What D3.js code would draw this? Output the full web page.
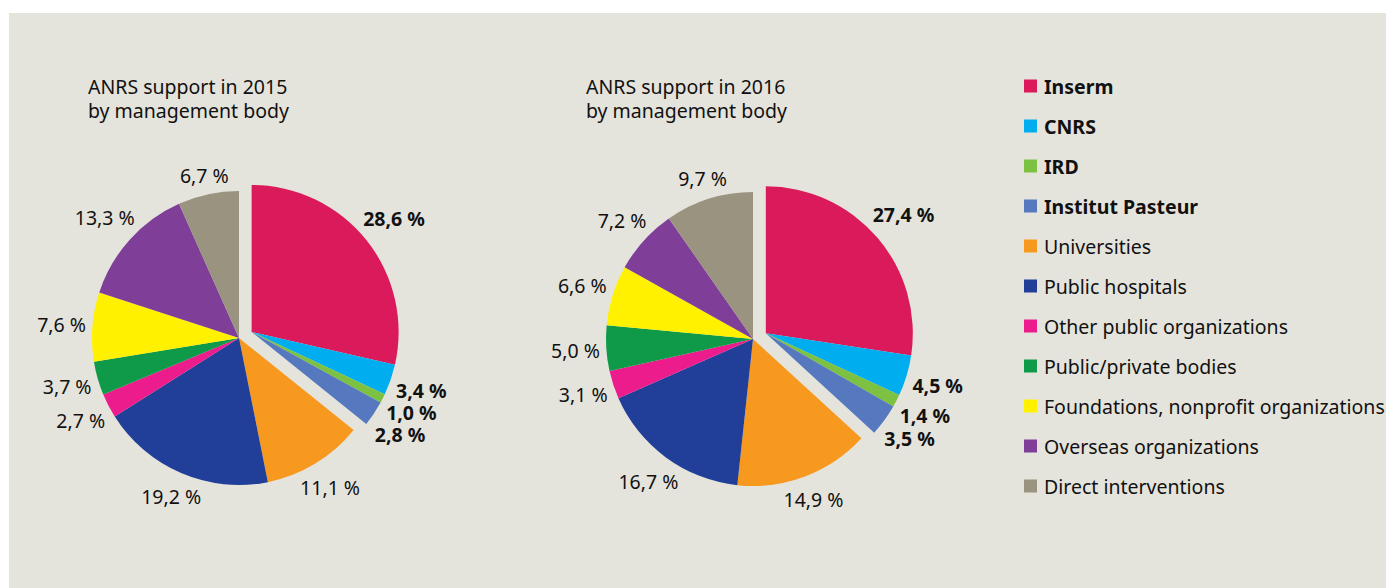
<!DOCTYPE html>
<html>
<head>
<meta charset="utf-8">
<script src="https://cdn.jsdelivr.net/npm/d3@7"></script>
<style>
  body { margin: 0; background: #fff; }
  svg { display: block; font-family: "Noto Sans", sans-serif; }
</style>
</head>
<body>
<svg id="viz" width="1386" height="588"></svg>
<script>
// categories, colours and the two years of shares (percent)
const categories = [
    "Inserm", "CNRS", "IRD", "Institut Pasteur", "Universities", "Public hospitals",
    "Other public organizations", "Public/private bodies",
    "Foundations, nonprofit organizations", "Overseas organizations", "Direct interventions"
];
const colors = [
    "#da1a5b", "#00aeef", "#7dc142", "#5578bf", "#f7991f", "#213f99",
    "#ec1c8c", "#0e9a48", "#fff100", "#7f3f98", "#9a9380"
];
const values2015 = [28.6, 3.4, 1.0, 2.8, 11.1, 19.2, 2.7, 3.7, 7.6, 13.3, 6.7];
const values2016 = [27.4, 4.5, 1.4, 3.5, 14.9, 16.7, 3.1, 5.0, 6.6, 7.2, 9.7];
const highlighted = ["Inserm", "CNRS", "IRD", "Institut Pasteur"];
const titles2015 = ["ANRS support in 2015", "by management body"];
const titles2016 = ["ANRS support in 2016", "by management body"];

const svg = d3.select("#viz");
const radius = 147;
const explode = 14;
const fontSize = 19.5;

svg.append("rect")
    .attr("x", 9).attr("y", 13)
    .attr("width", 1386 - 9).attr("height", 588 - 13)
    .attr("fill", "#e5e4dc");

const color = d3.scaleOrdinal().domain(categories).range(colors);
const fmt = (v) => d3.format(".1f")(v).replace(".", ",") + " %";

function drawPie(values, titles, cx, cy, titleX) {
    const g = svg.append("g");

    g.selectAll("text.title")
        .data(titles)
        .enter()
        .append("text")
        .attr("class", "title")
        .attr("x", titleX)
        .attr("y", (d, i) => 94 + i * 24)
        .attr("font-size", fontSize)
        .attr("fill", "#111")
        .text((d) => d);

    const data = categories.map((name, i) => ({name, value: values[i]}));
    const arcs = d3.pie().sort(null).value((d) => d.value)(data);

    // the highlighted group is pulled out along its middle angle
    const hl = arcs.filter((a) => highlighted.includes(a.data.name));
    const midGroup = (hl[0].startAngle + hl[hl.length - 1].endAngle) / 2;
    const off = [explode * Math.sin(midGroup), -explode * Math.cos(midGroup)];
    const centerOf = (a) => highlighted.includes(a.data.name)
        ? [cx + off[0], cy + off[1]] : [cx, cy];

    const arc = d3.arc().innerRadius(0).outerRadius(radius);

    g.selectAll("path")
        .data(arcs)
        .enter()
        .append("path")
        .attr("transform", (a) => `translate(${centerOf(a)})`)
        .attr("d", arc)
        .attr("fill", (a) => color(a.data.name));

    const labels = g.selectAll("text.lbl")
        .data(arcs)
        .enter()
        .append("text")
        .attr("class", "lbl")
        .attr("font-size", fontSize)
        .attr("font-weight", (a) => highlighted.includes(a.data.name) ? "bold" : "normal")
        .attr("fill", "#111")
        .attr("text-anchor", "middle")
        .attr("dominant-baseline", "central")
        .text((a) => fmt(a.data.value));

    // place each label just outside its slice, then spread stacked ones
    const pos = [];
    labels.each(function (a) {
        const w = this.getComputedTextLength();
        const ang = (a.startAngle + a.endAngle) / 2;
        const s = Math.sin(ang), c = -Math.cos(ang);
        const r = radius + 6 + Math.abs(s) * w / 2 + Math.abs(c) * 8;
        const [ox, oy] = centerOf(a);
        pos.push({node: this, x: ox + r * s, y: oy + r * c, right: s >= 0});
    });
    [true, false].forEach((side) => {
        const list = pos.filter((p) => p.right === side).sort((a, b) => a.y - b.y);
        for (let i = 1; i < list.length; i++) {
            if (list[i].y - list[i - 1].y < 22) list[i].y = list[i - 1].y + 22;
        }
    });
    pos.forEach((p) => d3.select(p.node).attr("x", p.x).attr("y", p.y));
}

drawPie(values2015, titles2015, 239, 338, 88);
drawPie(values2016, titles2016, 753, 339, 586);

// legend
const legend = svg.append("g").attr("transform", "translate(1024,0)");
const rows = legend.selectAll("g")
    .data(categories)
    .enter()
    .append("g")
    .attr("transform", (d, i) => `translate(0,${86 + i * 40})`);
rows.append("rect")
    .attr("x", 0).attr("y", -6.5)
    .attr("width", 13).attr("height", 13)
    .attr("fill", (d) => color(d));
rows.append("text")
    .attr("x", 20)
    .attr("dominant-baseline", "central")
    .attr("font-size", fontSize)
    .attr("font-weight", (d) => highlighted.includes(d) ? "bold" : "normal")
    .attr("fill", "#111")
    .text((d) => d);
</script>
</body>
</html>
